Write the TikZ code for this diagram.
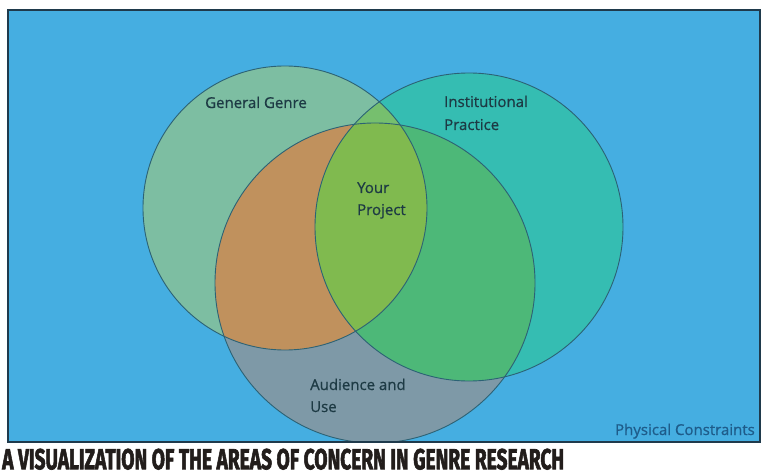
\documentclass[tikz,border=0pt]{standalone}
\usepackage{fontspec}
\setmainfont{Open Sans}
\newfontfamily\labfont[FakeBold=0.7]{Open Sans}
\newfontfamily\titlefont[FakeBold=2.5]{Fira Sans}
\begin{document}
\begin{tikzpicture}[x=1pt,y=-1pt,
  lab/.style={font=\labfont\fontsize{15}{22}\selectfont, text=labtext, inner sep=0pt, anchor=base west},
  ring/.style={draw=ringline, line width=0.9pt}]
\definecolor{bg}{HTML}{45AEE1}
\definecolor{frame}{HTML}{1F3A4C}
\definecolor{cA}{HTML}{7DBEA2}
\definecolor{cB}{HTML}{35BDB2}
\definecolor{cC}{HTML}{7E99A7}
\definecolor{cAC}{HTML}{C0915D}
\definecolor{cBC}{HTML}{4DB878}
\definecolor{cAB}{HTML}{76BF6E}
\definecolor{cABC}{HTML}{80BA4F}
\definecolor{ringline}{HTML}{2C6275}
\definecolor{labtext}{HTML}{1D3A44}
\definecolor{phys}{HTML}{1E5C8A}
\definecolor{titlec}{HTML}{221D1B}
\useasboundingbox (0,0) rectangle (762,473);
\fill[white] (0,0) rectangle (762,473);
\fill[bg] (8,10) rectangle (760,442);
% circles
\def\circA{(285,208) circle (142)}
\def\circB{(469,227) circle (154)}
\def\circC{(375,283) circle (160)}
\begin{scope}
\clip (8,10) rectangle (760,442);
\fill[cA] \circA;
\fill[cB] \circB;
\fill[cC] \circC;
\begin{scope}\clip \circA; \fill[cAC] \circC; \end{scope}
\begin{scope}\clip \circB; \fill[cBC] \circC; \end{scope}
\begin{scope}\clip \circA; \fill[cAB] \circB; \end{scope}
\begin{scope}\clip \circA; \clip \circB; \fill[cABC] \circC; \end{scope}
\draw[ring] \circA;
\draw[ring] \circB;
\draw[ring] \circC;
\end{scope}
\draw[frame, line width=1.8pt] (8,10) rectangle (760,442);
% labels
\node[lab] (gg) at (205,108) {General Genre};
\node[lab] (ip1) at (444,107) {Institutional};
\node[lab] (ip2) at (444,130) {Practice};
\node[lab] (yp1) at (357,193) {Your};
\node[lab] (yp2) at (357,215) {Project};
\node[lab] (au1) at (310,390) {Audience and};
\node[lab] (au2) at (310,412) {Use};
\node[lab, text=phys, anchor=base east] (pc) at (755,435) {Physical Constraints};
\node[anchor=north west, inner sep=0pt, text=titlec] (title) at (2,448.5)
  {\resizebox{562pt}{20.5pt}{\titlefont\bfseries A VISUALIZATION OF THE AREAS OF CONCERN IN GENRE RESEARCH}};
\end{tikzpicture}
\end{document}
